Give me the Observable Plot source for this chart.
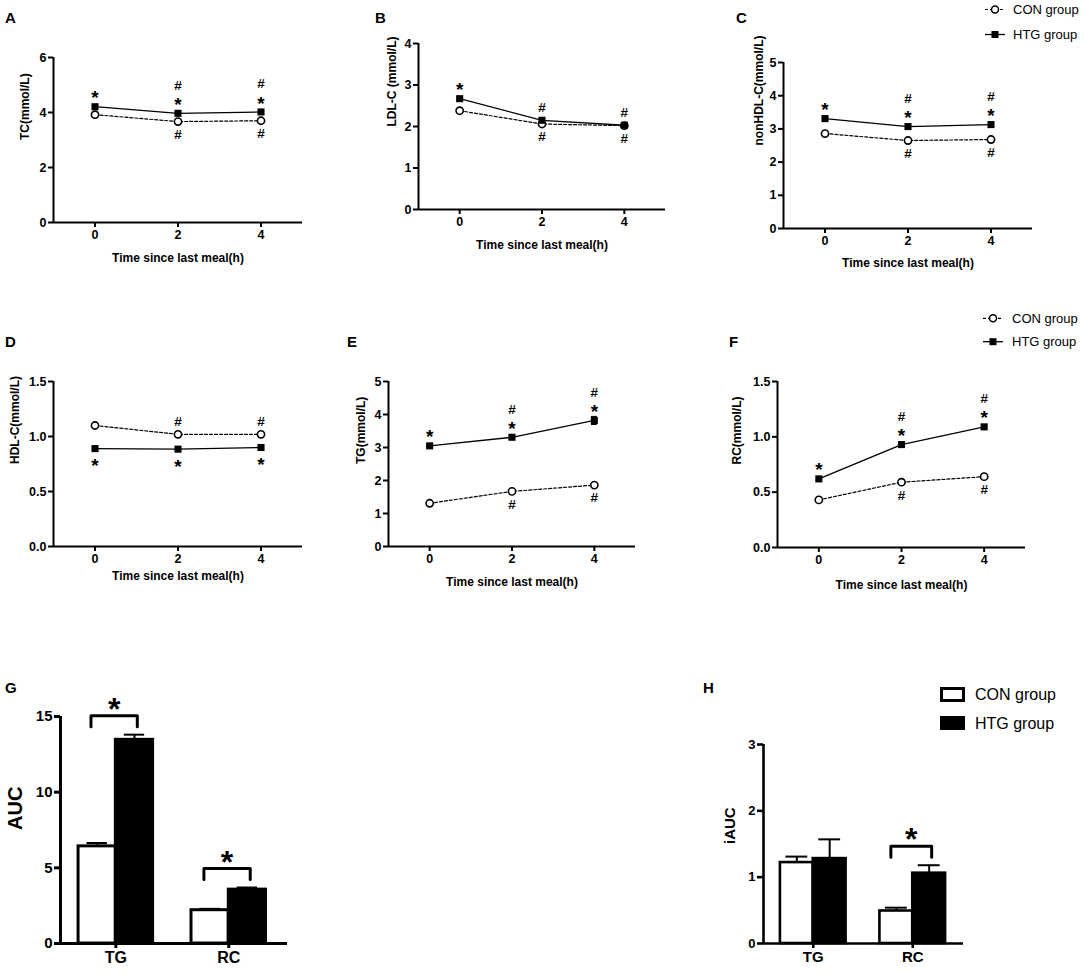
<!DOCTYPE html>
<html><head><meta charset="utf-8">
<script src="https://cdn.jsdelivr.net/npm/d3@7"></script>
<script src="https://cdn.jsdelivr.net/npm/@observablehq/plot@0.6"></script>
<style>
html,body{margin:0;padding:0;background:#fff;}
#root{position:relative;width:1084px;height:974px;font-family:"Liberation Sans",Arial,sans-serif;}
#root svg{position:absolute;}
</style></head><body><div id="root"></div>
<script>
// ---------- data ----------
const times = [0, 2, 4];
const groupNames = ["CON group", "HTG group"];
const xLabel = "Time since last meal(h)";

// A: TC
const tcCON = [3.92, 3.67, 3.70];
const tcHTG = [4.21, 3.97, 4.02];
const tcAbove = ["*", "*#", "*#"];
const tcBelow = ["", "#", "#"];
// B: LDL-C
const ldlCON = [2.38, 2.06, 2.02];
const ldlHTG = [2.67, 2.15, 2.03];
const ldlAbove = ["*", "#", "#"];
const ldlBelow = ["", "#", "#"];
// C: nonHDL-C
const nonhdlCON = [2.86, 2.65, 2.68];
const nonhdlHTG = [3.31, 3.07, 3.13];
const nonhdlAbove = ["*", "*#", "*#"];
const nonhdlBelow = ["", "#", "#"];
// D: HDL-C
const hdlCON = [1.10, 1.02, 1.02];
const hdlHTG = [0.89, 0.885, 0.90];
const hdlAbove = ["", "#", "#"];
const hdlBelow = ["*", "*", "*"];
// E: TG
const tgCON = [1.31, 1.67, 1.86];
const tgHTG = [3.05, 3.31, 3.82];
const tgCONerr = [0.03, 0.04, 0.05];
const tgHTGerr = [0.04, 0.05, 0.12];
const tgAbove = ["*", "*#", "*#"];
const tgBelow = ["", "#", "#"];
// F: RC
const rcCON = [0.43, 0.59, 0.64];
const rcHTG = [0.62, 0.93, 1.09];
const rcAbove = ["*", "*#", "*#"];
const rcBelow = ["", "#", "#"];

// G / H bars
const barCats = ["TG", "RC"];
const aucCON = [6.42, 2.20];
const aucCONerr = [0.22, 0.09];
const aucHTG = [13.46, 3.56];
const aucHTGerr = [0.34, 0.14];
const aucSig = ["*", "*"];
const iaucCON = [1.22, 0.49];
const iaucCONerr = [0.09, 0.05];
const iaucHTG = [1.28, 1.06];
const iaucHTGerr = [0.29, 0.12];
const iaucSig = ["", "*"];

// ---------- helpers ----------
const root = document.getElementById("root");
const FONT = "Liberation Sans, Arial, sans-serif";
const fmtInt = d3.format("d");
function place(svg, left, top) {
  svg.style.left = left + "px";
  svg.style.top = top + "px";
  root.appendChild(svg);
}

function linePanel(p) {
  const ppu = (p.height - p.mT - p.mB) / p.yMax;
  const con = times.map((t, i) => ({t, v: p.con[i], e: p.conErr ? p.conErr[i] : 0}));
  const htg = times.map((t, i) => ({t, v: p.htg[i], e: p.htgErr ? p.htgErr[i] : 0}));
  const ann = [];
  const starAdj = 4.5;
  times.forEach((t, i) => {
    const hi = Math.max(p.con[i], p.htg[i]);
    const lo = Math.min(p.con[i], p.htg[i]);
    [...p.above[i]].forEach((s, k) => {
      const off = 13 + 15 * k - (s === "*" ? starAdj : 0);
      ann.push({t, s, y: hi + off / ppu});
    });
    [...p.below[i]].forEach((s, k) => {
      const off = 13 + 15 * k + (s === "*" ? starAdj : 0);
      ann.push({t, s, y: lo - off / ppu});
    });
  });
  const errs = [...con, ...htg].filter(d => d.e > 0);
  const svg = Plot.plot({
    width: p.width, height: p.height,
    marginLeft: p.mL, marginRight: p.mR, marginTop: p.mT, marginBottom: p.mB,
    x: {domain: [-1, 5]},
    y: {domain: [0, p.yMax]},
    style: {fontFamily: FONT, fontSize: "12px", background: "transparent", overflow: "visible", color: "black"},
    marks: [
      Plot.ruleY([0], {strokeWidth: 2}),
      Plot.ruleX([-1], {strokeWidth: 2}),
      Plot.axisY({ticks: p.yTicks, tickFormat: p.yFmt || fmtInt, tickSize: 5, tickPadding: 2, strokeWidth: 2, fontSize: 12.5, fontWeight: "bold", label: null}),
      Plot.axisX({ticks: times, tickFormat: fmtInt, tickSize: 5, tickPadding: 3, strokeWidth: 2, fontSize: 12.5, fontWeight: "bold", label: null}),
      Plot.ruleX(errs, {x: "t", y1: d => d.v - d.e, y2: d => d.v + d.e, strokeWidth: 1.2}),
      Plot.ruleY(errs, {y: d => d.v + d.e, x1: d => d.t - 0.07, x2: d => d.t + 0.07, strokeWidth: 1.2}),
      Plot.ruleY(errs, {y: d => d.v - d.e, x1: d => d.t - 0.07, x2: d => d.t + 0.07, strokeWidth: 1.2}),
      Plot.line(con, {x: "t", y: "v", strokeDasharray: "3,2", strokeWidth: 1.2}),
      Plot.line(htg, {x: "t", y: "v", strokeWidth: 1.3}),
      Plot.dot(con, {x: "t", y: "v", r: 3.6, fill: "white", stroke: "black", strokeWidth: 1.6}),
      Plot.dot(htg, {x: "t", y: "v", r: 4, symbol: "square", fill: "black"}),
      Plot.text(ann.filter(d => d.s === "#"), {x: "t", y: "y", text: "s", fontSize: 13.5, fontWeight: "bold"}),
      Plot.text(ann.filter(d => d.s === "*"), {x: "t", y: "y", text: "s", fontSize: 19, fontWeight: "bold"}),
      Plot.text([p.ylabel], {frameAnchor: "left", dx: p.yDx, rotate: -90, lineAnchor: "middle", text: d => d, fontSize: 12, fontWeight: "bold"}),
      Plot.text([xLabel], {frameAnchor: "bottom", dy: p.xDy, lineAnchor: "middle", text: d => d, fontSize: 12, fontWeight: "bold"})
    ]
  });
  place(svg, p.left, p.top);
}

function barPanel(p) {
  const ppu = (p.height - p.mT - p.mB) / p.yMax;
  const half = 0.33;
  const bars = [];
  barCats.forEach((c, i) => {
    bars.push({i, g: "CON", v: p.con[i], e: p.conErr[i], x1: i - half, x2: i, xc: i - half / 2});
    bars.push({i, g: "HTG", v: p.htg[i], e: p.htgErr[i], x1: i, x2: i + half, xc: i + half / 2});
  });
  const br = [], stars = [];
  p.sig.forEach((s, i) => {
    if (!s) return;
    const top = Math.max(p.con[i] + p.conErr[i], p.htg[i] + p.htgErr[i]) + p.gap / ppu;
    const leg = 11 / ppu;
    const a = i - 0.22, b = i + 0.19;
    br.push({i, x: a, y: top - leg}, {i, x: a, y: top}, {i, x: b, y: top}, {i, x: b, y: top - leg});
    stars.push({x: (a + b) / 2, y: top, s});
  });
  const svg = Plot.plot({
    width: p.width, height: p.height,
    marginLeft: p.mL, marginRight: p.mR, marginTop: p.mT, marginBottom: p.mB,
    x: {domain: p.xDomain},
    y: {domain: [0, p.yMax]},
    style: {fontFamily: FONT, fontSize: "12px", background: "transparent", overflow: "visible", color: "black"},
    marks: [
      Plot.rectY(bars, {x1: "x1", x2: "x2", y1: 0, y2: "v", fill: d => d.g === "CON" ? "white" : "black", stroke: "black", strokeWidth: p.sw}),
      Plot.ruleX(bars, {x: "xc", y1: "v", y2: d => d.v + d.e, strokeWidth: 2}),
      Plot.ruleY(bars, {y: d => d.v + d.e, x1: d => d.xc - p.cap, x2: d => d.xc + p.cap, strokeWidth: 2}),
      Plot.ruleY([0], {strokeWidth: p.sw}),
      Plot.ruleX([p.xDomain[0]], {strokeWidth: p.sw}),
      Plot.axisY({ticks: p.yTicks, tickFormat: fmtInt, tickSize: 6, tickPadding: 2, strokeWidth: p.sw, fontSize: p.tickFont, fontWeight: "bold", label: null}),
      Plot.axisX({ticks: [0, 1], tickFormat: i => barCats[i], tickSize: 5, tickPadding: 3, strokeWidth: p.sw, fontSize: p.catFont, fontWeight: "bold", label: null}),
      Plot.line(br, {x: "x", y: "y", z: "i", strokeWidth: 3}),
      Plot.text(stars, {x: "x", y: "y", text: "s", fontSize: 32, fontWeight: "bold", lineAnchor: "bottom", dy: 4}),
      Plot.text([p.ylabel], {frameAnchor: "left", dx: p.yDx, rotate: -90, lineAnchor: "middle", text: d => d, fontSize: p.labelFont, fontWeight: "bold"})
    ]
  });
  place(svg, p.left, p.top);
}

// ---------- panels ----------
linePanel({left: 0, top: 0, width: 340, height: 280, mL: 53, mR: 38, mT: 57, mB: 58,
  yMax: 6, yTicks: [0, 2, 4, 6], con: tcCON, htg: tcHTG, above: tcAbove, below: tcBelow,
  ylabel: "TC(mmol/L)", yDx: -28, xDy: 36});
linePanel({left: 340, top: 0, width: 360, height: 280, mL: 78, mR: 35, mT: 43, mB: 71,
  yMax: 4, yTicks: [0, 1, 2, 3, 4], con: ldlCON, htg: ldlHTG, above: ldlAbove, below: ldlBelow,
  ylabel: "LDL-C (mmol/L)", yDx: -26, xDy: 36});
linePanel({left: 700, top: 0, width: 384, height: 280, mL: 83, mR: 52, mT: 62, mB: 52,
  yMax: 5, yTicks: [0, 1, 2, 3, 4, 5], con: nonhdlCON, htg: nonhdlHTG, above: nonhdlAbove, below: nonhdlBelow,
  ylabel: "nonHDL-C(mmol/L)", yDx: -24, xDy: 35});
linePanel({left: 0, top: 300, width: 340, height: 290, mL: 53, mR: 38, mT: 81, mB: 44,
  yMax: 1.5, yTicks: [0, 0.5, 1, 1.5], yFmt: d3.format(".1f"), con: hdlCON, htg: hdlHTG, above: hdlAbove, below: hdlBelow,
  ylabel: "HDL-C(mmol/L)", yDx: -38, xDy: 30});
linePanel({left: 340, top: 300, width: 360, height: 290, mL: 48, mR: 65, mT: 81, mB: 44,
  yMax: 5, yTicks: [0, 1, 2, 3, 4, 5], con: tgCON, htg: tgHTG, conErr: tgCONerr, htgErr: tgHTGerr, above: tgAbove, below: tgBelow,
  ylabel: "TG(mmol/L)", yDx: -27, xDy: 36});
linePanel({left: 700, top: 300, width: 384, height: 290, mL: 77, mR: 59, mT: 81, mB: 43,
  yMax: 1.5, yTicks: [0, 0.5, 1, 1.5], yFmt: d3.format(".1f"), con: rcCON, htg: rcHTG, above: rcAbove, below: rcBelow,
  ylabel: "RC(mmol/L)", yDx: -40, xDy: 38});

barPanel({left: 0, top: 640, width: 340, height: 334, mL: 60, mR: 53, mT: 76, mB: 31,
  xDomain: [-0.49, 1.52], yMax: 15, yTicks: [0, 5, 10, 15], con: aucCON, conErr: aucCONerr, htg: aucHTG, htgErr: aucHTGerr,
  sig: aucSig, gap: 19, cap: 0.09, sw: 3, tickFont: 15, catFont: 16, labelFont: 20, ylabel: "AUC", yDx: -45});
barPanel({left: 690, top: 640, width: 394, height: 334, mL: 73, mR: 121, mT: 104, mB: 31,
  xDomain: [-0.5, 1.51], yMax: 3, yTicks: [0, 1, 2, 3], con: iaucCON, conErr: iaucCONerr, htg: iaucHTG, htgErr: iaucHTGerr,
  sig: iaucSig, gap: 19, cap: 0.11, sw: 2.6, tickFont: 13, catFont: 15, labelFont: 15, ylabel: "iAUC", yDx: -33});

// ---------- overlay: panel letters and legends ----------
const ov = d3.create("svg").attr("width", 1084).attr("height", 974)
  .style("left", "0px").style("top", "0px").style("font-family", FONT);
const letters = [["A", 5, 23], ["B", 375, 23], ["C", 736, 23], ["D", 5, 347], ["E", 347, 347], ["F", 729, 347], ["G", 5, 693], ["H", 703, 693]];
ov.selectAll("text.lt").data(letters).join("text").attr("class", "lt")
  .attr("x", d => d[1]).attr("y", d => d[2])
  .attr("font-size", 15).attr("font-weight", "bold").text(d => d[0]);

function lineLegend(x0, yCon, yHtg, xText) {
  const g = ov.append("g");
  g.append("line").attr("x1", x0).attr("x2", x0 + 20).attr("y1", yCon).attr("y2", yCon)
    .attr("stroke", "black").attr("stroke-width", 1.2).attr("stroke-dasharray", "3,2");
  g.append("circle").attr("cx", x0 + 10).attr("cy", yCon).attr("r", 3.5)
    .attr("fill", "white").attr("stroke", "black").attr("stroke-width", 1.5);
  g.append("line").attr("x1", x0).attr("x2", x0 + 20).attr("y1", yHtg).attr("y2", yHtg)
    .attr("stroke", "black").attr("stroke-width", 1.3);
  g.append("rect").attr("x", x0 + 6.5).attr("y", yHtg - 3.5).attr("width", 7).attr("height", 7).attr("fill", "black");
  g.append("text").attr("x", xText).attr("y", yCon + 4.5).attr("font-size", 13).text(groupNames[0]);
  g.append("text").attr("x", xText).attr("y", yHtg + 4.5).attr("font-size", 13).text(groupNames[1]);
}
lineLegend(985, 9.5, 34.5, 1013);
lineLegend(983, 318.3, 341.7, 1012);

const hl = ov.append("g");
hl.append("rect").attr("x", 941.5).attr("y", 688.5).attr("width", 22).attr("height", 12)
  .attr("fill", "white").attr("stroke", "black").attr("stroke-width", 3);
hl.append("rect").attr("x", 940).attr("y", 716).attr("width", 25).attr("height", 14).attr("fill", "black");
hl.append("text").attr("x", 975).attr("y", 700).attr("font-size", 16).text(groupNames[0]);
hl.append("text").attr("x", 975).attr("y", 729).attr("font-size", 16).text(groupNames[1]);
root.appendChild(ov.node());
</script></body></html>
